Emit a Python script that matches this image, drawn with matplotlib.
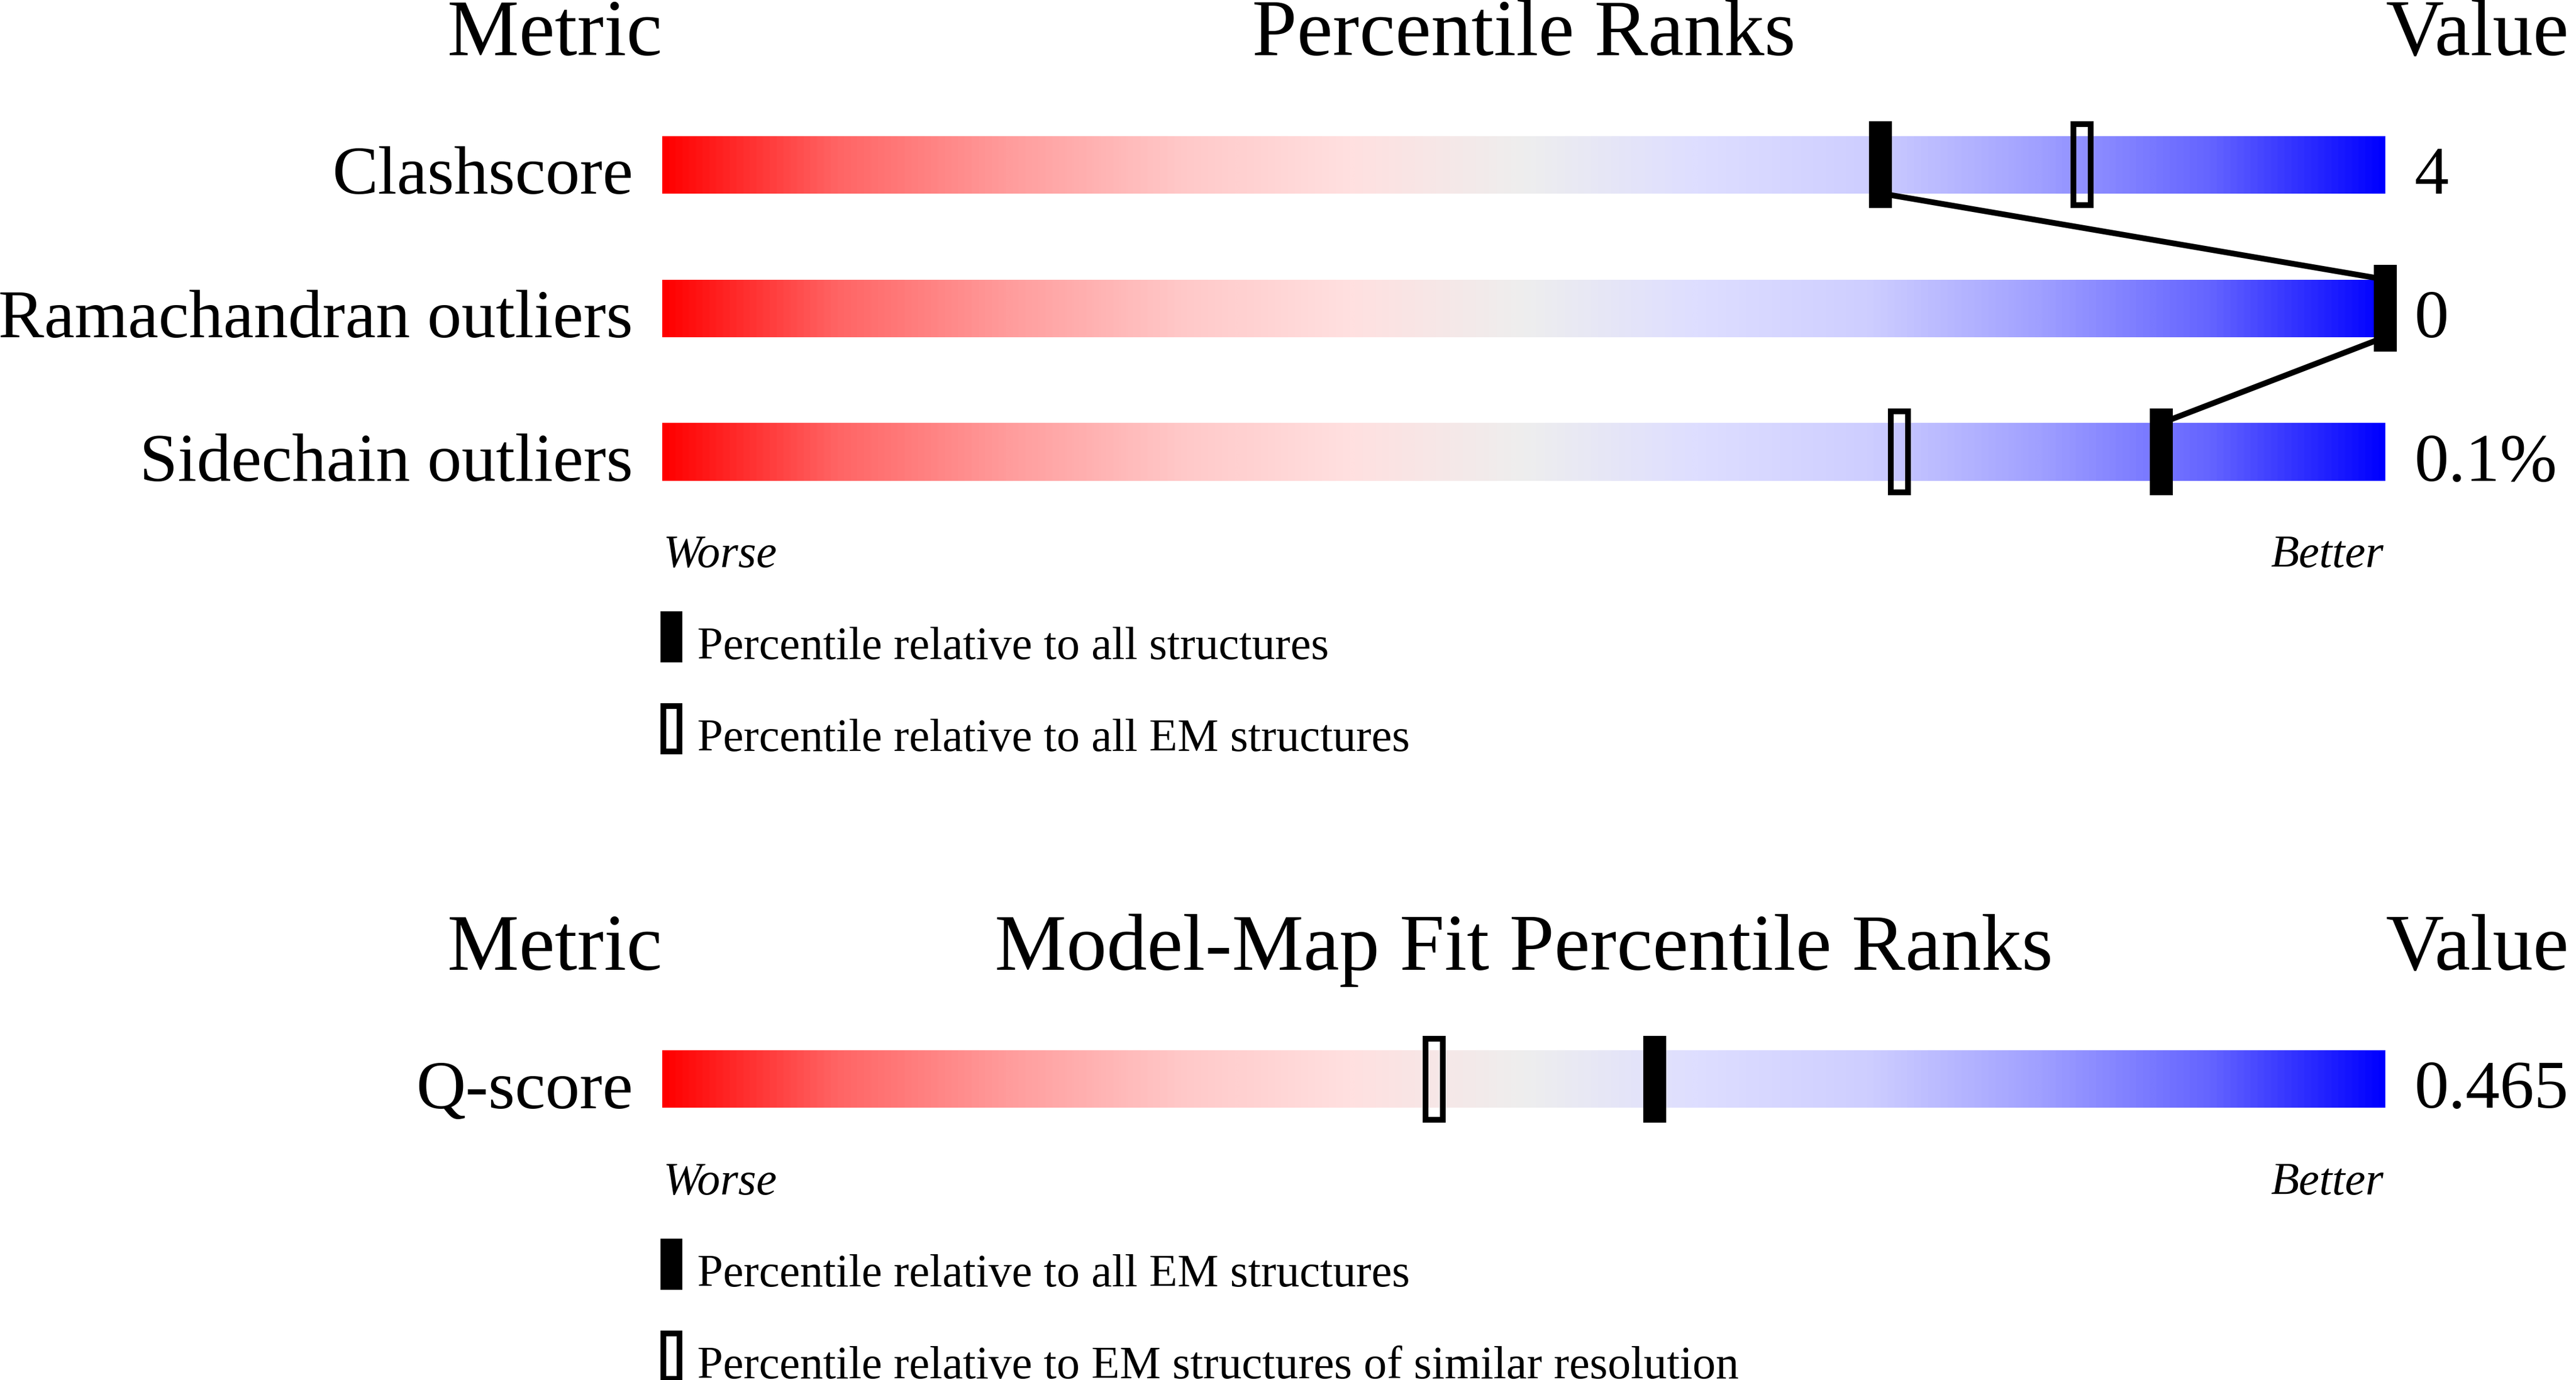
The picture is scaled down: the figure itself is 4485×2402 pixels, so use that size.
import numpy as np
import matplotlib
matplotlib.use("Agg")
import matplotlib.pyplot as plt
from matplotlib.colors import LinearSegmentedColormap
from matplotlib.patches import Rectangle

# ---------------- data ----------------
metrics = ["Clashscore", "Ramachandran outliers", "Sidechain outliers"]
pct_all = [70.7, 100.0, 87.0]          # filled marker: relative to all structures
pct_em = [82.4, 100.0, 71.8]           # open marker: relative to all EM structures
values = ["4", "0", "0.1%"]

fit_metrics = ["Q-score"]
fit_pct_em = [57.6]                    # filled: relative to all EM structures
fit_pct_res = [44.8]                   # open: EM structures of similar resolution
fit_values = ["0.465"]

titles1 = ["Metric", "Percentile Ranks", "Value"]
titles2 = ["Metric", "Model-Map Fit Percentile Ranks", "Value"]
legend1 = ["Percentile relative to all structures",
           "Percentile relative to all EM structures"]
legend2 = ["Percentile relative to all EM structures",
           "Percentile relative to EM structures of similar resolution"]
ends = ["Worse", "Better"]

# ---------------- style ----------------
W, H = 4485, 2402
DPI = 100
SERIF = ["Liberation Serif", "DejaVu Serif"]
stops = [(0.0, (255, 0, 0)), (0.1, (255, 100, 100)), (0.2, (255, 156, 156)),
         (0.3, (255, 200, 200)), (0.4, (255, 224, 224)), (0.5, (238, 238, 238)),
         (0.6, (222, 222, 255)), (0.7, (206, 206, 255)), (0.8, (160, 160, 255)),
         (0.9, (100, 100, 255)), (1.0, (0, 0, 255))]
cmap = LinearSegmentedColormap.from_list(
    "slider", [(p, tuple(c / 255 for c in rgb)) for p, rgb in stops])

BAR_H = 0.40        # in row units (row pitch 250 px)
MK_H = 0.604
MK_W = 1.33         # percentile units (30 px per percentile)
BORDER_PX = 10
PX_PER_PCT = 30.0
PX_PER_ROW = 250.0
FS_TITLE = 101
FS_LABEL = 86
FS_SMALL = 58

fig = plt.figure(figsize=(W / DPI, H / DPI), dpi=DPI)
fig.patch.set_facecolor("white")

# overlay axes in pixel coordinates for titles / legends
ov = fig.add_axes([0, 0, 1, 1])
ov.set_xlim(0, W)
ov.set_ylim(H, 0)
ov.axis("off")

BAR_L, BAR_R = 1153, 4153


def section(row_top_px, names, p_fill, p_open, vals, titles, legs):
    n = len(names)
    top = row_top_px - PX_PER_ROW / 2
    bottom = top + n * PX_PER_ROW
    ax = fig.add_axes([BAR_L / W, 1 - bottom / H, (BAR_R - BAR_L) / W,
                       n * PX_PER_ROW / H])
    ax.set_xlim(0, 100)
    ax.set_ylim(n - 0.5, -0.5)
    ax.axis("off")
    ax.patch.set_alpha(0)
    grad = np.linspace(0, 1, 1024)[None, :]
    for i, name in enumerate(names):
        ax.imshow(grad, cmap=cmap, aspect="auto", interpolation="bilinear",
                  extent=(0, 100, i + BAR_H / 2, i - BAR_H / 2), zorder=1)
        ax.text(-51 / PX_PER_PCT, i + BAR_H / 2, name, ha="right", va="baseline",
                fontsize=FS_LABEL, family=SERIF, clip_on=False)
        ax.text(100 + 51 / PX_PER_PCT, i + BAR_H / 2, vals[i], ha="left",
                va="baseline", fontsize=FS_LABEL, family=SERIF, clip_on=False)
    # connecting line between filled markers
    if n > 1:
        xs, ys = [], []
        for i, p in enumerate(p_fill):
            xs += [p, p]
            ys += [i - BAR_H / 2, i + BAR_H / 2]
        ax.plot(xs[1:-1], ys[1:-1], color="black", lw=7.2, zorder=2,
                solid_capstyle="butt", solid_joinstyle="miter", clip_on=False)
    bw = BORDER_PX / PX_PER_PCT
    bh = BORDER_PX / PX_PER_ROW
    for i in range(n):
        po = p_open[i]
        ax.add_patch(Rectangle((po - MK_W / 2 + bw / 2, i - MK_H / 2 + bh / 2),
                               MK_W - bw, MK_H - bh, facecolor="none",
                               edgecolor="black", lw=BORDER_PX * 72 / DPI,
                               joinstyle="miter", zorder=3, clip_on=False))
        pf = p_fill[i]
        ax.add_patch(Rectangle((pf - MK_W / 2, i - MK_H / 2), MK_W, MK_H,
                               facecolor="black", edgecolor="none", zorder=4,
                               clip_on=False))
    # titles
    tb = row_top_px - 190.5
    ov.text(BAR_L, tb, titles[0], ha="right", va="baseline", fontsize=FS_TITLE,
            family=SERIF)
    ov.text((BAR_L + BAR_R) / 2, tb, titles[1], ha="center", va="baseline",
            fontsize=FS_TITLE, family=SERIF)
    ov.text(BAR_R, tb, titles[2], ha="left", va="baseline", fontsize=FS_TITLE,
            family=SERIF)
    # worse / better
    bar_bottom = row_top_px + (n - 1) * PX_PER_ROW + 50
    yb = bar_bottom + 150
    ov.text(BAR_L + 2, yb, ends[0], ha="left", va="baseline", fontsize=FS_SMALL,
            family=SERIF, style="italic")
    ov.text(BAR_R - 3, yb, ends[1], ha="right", va="baseline", fontsize=FS_SMALL,
            family=SERIF, style="italic")
    # legend
    for k, lab in enumerate(legs):
        y0 = bar_bottom + 227 + k * 160
        if k == 0:
            ov.add_patch(Rectangle((1150, y0), 38, 89, facecolor="black",
                                   edgecolor="none"))
        else:
            ov.add_patch(Rectangle((1155, y0 + 5), 28, 79, facecolor="none",
                                   edgecolor="black", lw=BORDER_PX * 72 / DPI,
                                   joinstyle="miter"))
        ov.text(1214, y0 + 84, lab, ha="left", va="baseline", fontsize=FS_SMALL,
                family=SERIF)


section(286.5, metrics, pct_all, pct_em, values, titles1, legend1)
section(1878.5, fit_metrics, fit_pct_em, fit_pct_res, fit_values, titles2, legend2)

fig.savefig("out.png", dpi=DPI, facecolor="white")
